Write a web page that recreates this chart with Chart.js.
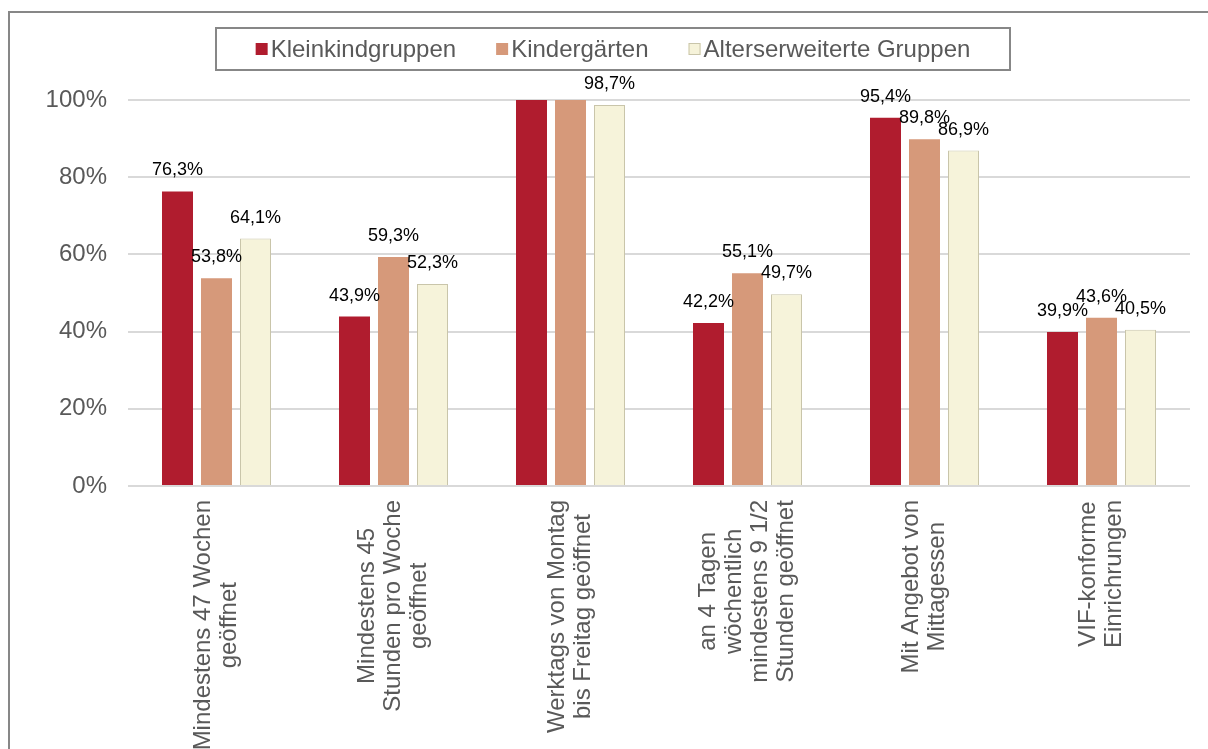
<!DOCTYPE html>
<html>
<head>
<meta charset="utf-8">
<script src="https://cdn.jsdelivr.net/npm/chart.js@4.4.0/dist/chart.umd.min.js"></script>
<style>
  html, body { margin: 0; padding: 0; background: #fff; overflow: hidden; }
  #frame { position: absolute; left: 8px; top: 11px; width: 1213px; height: 858px;
           border-left: 2px solid #878787; border-top: 2px solid #878787; }
</style>
</head>
<body>
<div id="frame"><canvas id="chart"></canvas></div>
<script>
var categories = [
  ['Mindestens 47 Wochen', 'geöffnet'],
  ['Mindestens 45', 'Stunden pro Woche', 'geöffnet'],
  ['Werktags von Montag', 'bis Freitag geöffnet'],
  ['an 4 Tagen', 'wöchentlich', 'mindestens 9 1/2', 'Stunden geöffnet'],
  ['Mit Angebot von', 'Mittagessen'],
  ['VIF-konforme', 'Einrichrungen']
];
var seriesNames = ['Kleinkindgruppen', 'Kindergärten', 'Alterserweiterte Gruppen'];
var kleinkind = [76.3, 43.9, 100, 42.2, 95.4, 39.9];
var kindergarten = [53.8, 59.3, 100, 55.1, 89.8, 43.6];
var alterserweitert = [64.1, 52.3, 98.7, 49.7, 86.9, 40.5];
var yTicks = [0, 20, 40, 60, 80, 100];

var FONT = "'Liberation Sans', Arial, sans-serif";
var GREY_TEXT = '#595959';

function fmt(v) {
    return v.toFixed(1).replace('.', ',') + '%';
}

// boxed legend like the spreadsheet original
var boxLegend = {
    id: 'boxLegend',
    afterDraw: function (chart) {
        var ctx = chart.ctx;
        var left = 206, top = 15, w = 794, h = 42;
        ctx.save();
        ctx.strokeStyle = '#878787';
        ctx.lineWidth = 2;
        ctx.strokeRect(left, top, w, h);
        ctx.font = '24px ' + FONT;
        ctx.textBaseline = 'middle';
        var items = chart.data.datasets.map(function (ds) {
            return { label: ds.label, fill: ds.backgroundColor, border: ds.borderColor, tw: ctx.measureText(ds.label).width };
        });
        var gap = 40, box = 12;
        var total = 0;
        items.forEach(function (it, i) { total += box + 3 + it.tw + (i ? gap : 0); });
        var x = left + (w - total) / 2;
        var cy = top + h / 2;
        items.forEach(function (it) {
            ctx.fillStyle = it.fill;
            ctx.fillRect(x, cy - 6, box, box);
            if (it.border) {
                ctx.strokeStyle = it.border;
                ctx.lineWidth = 1;
                ctx.strokeRect(x + 0.5, cy - 5.5, box - 1, box - 1);
            }
            ctx.fillStyle = GREY_TEXT;
            ctx.textAlign = 'left';
            ctx.fillText(it.label, x + box + 3, cy + 1);
            x += box + 3 + it.tw + gap;
        });
        ctx.restore();
    }
};

// category labels turned upward, lines centred on each other
var xLabels = {
    id: 'xLabels',
    afterDraw: function (chart) {
        var ctx = chart.ctx;
        var xs = chart.scales.x;
        var bottom = chart.chartArea.bottom;
        ctx.save();
        ctx.font = '24px ' + FONT;
        ctx.fillStyle = GREY_TEXT;
        ctx.textAlign = 'center';
        ctx.textBaseline = 'middle';
        categories.forEach(function (lines, i) {
            var maxW = 0;
            lines.forEach(function (l) { maxW = Math.max(maxW, ctx.measureText(l).width); });
            var x = xs.getPixelForValue(i);
            ctx.save();
            ctx.translate(x, bottom + 14 + maxW / 2);
            ctx.rotate(-Math.PI / 2);
            lines.forEach(function (l, j) {
                ctx.fillText(l, 0, (j - (lines.length - 1) / 2) * 26);
            });
            ctx.restore();
        });
        ctx.restore();
    }
};

// value labels above bars (the two 100 % bars have none in the original)
var valueLabels = {
    id: 'valueLabels',
    afterDatasetsDraw: function (chart) {
        var ctx = chart.ctx;
        ctx.save();
        ctx.font = '18px ' + FONT;
        ctx.fillStyle = '#000';
        ctx.textAlign = 'center';
        ctx.textBaseline = 'middle';
        chart.data.datasets.forEach(function (ds, d) {
            var meta = chart.getDatasetMeta(d);
            meta.data.forEach(function (bar, i) {
                var v = ds.data[i];
                if (v >= 100) return;
                ctx.fillText(fmt(v), bar.x, bar.y - 21);
            });
        });
        ctx.restore();
    }
};

var ctx = document.getElementById('chart').getContext('2d');
var chart = new Chart(ctx, {
    type: 'bar',
    data: {
        labels: categories,
        datasets: [{
            label: seriesNames[0],
            data: kleinkind,
            backgroundColor: '#b01c2e'
        }, {
            label: seriesNames[1],
            data: kindergarten,
            backgroundColor: '#d6997a'
        }, {
            label: seriesNames[2],
            data: alterserweitert,
            backgroundColor: '#f6f3da',
            borderColor: '#c9c5aa',
            borderWidth: 1
        }]
    },
    options: {
        responsive: true,
        maintainAspectRatio: false,
        animation: false,
        datasets: {
            bar: { categoryPercentage: 0.661, barPercentage: 0.795 }
        },
        layout: { padding: { left: 0, right: 33, top: 87, bottom: 385 } },
        plugins: {
            legend: { display: false },
            tooltip: { enabled: false }
        },
        scales: {
            x: {
                display: false
            },
            y: {
                min: 0,
                max: 100,
                afterFit: function (scale) { scale.width = 118; },
                afterBuildTicks: function (scale) {
                    scale.ticks = yTicks.map(function (v) { return { value: v }; });
                },
                ticks: {
                    padding: 21,
                    color: GREY_TEXT,
                    font: { family: FONT, size: 24 },
                    callback: function (v) { return v + '%'; }
                },
                grid: { color: '#d9d9d9', lineWidth: 2, drawTicks: false },
                border: { display: false }
            }
        }
    },
    plugins: [boxLegend, xLabels, valueLabels]
});
</script>
</body>
</html>
